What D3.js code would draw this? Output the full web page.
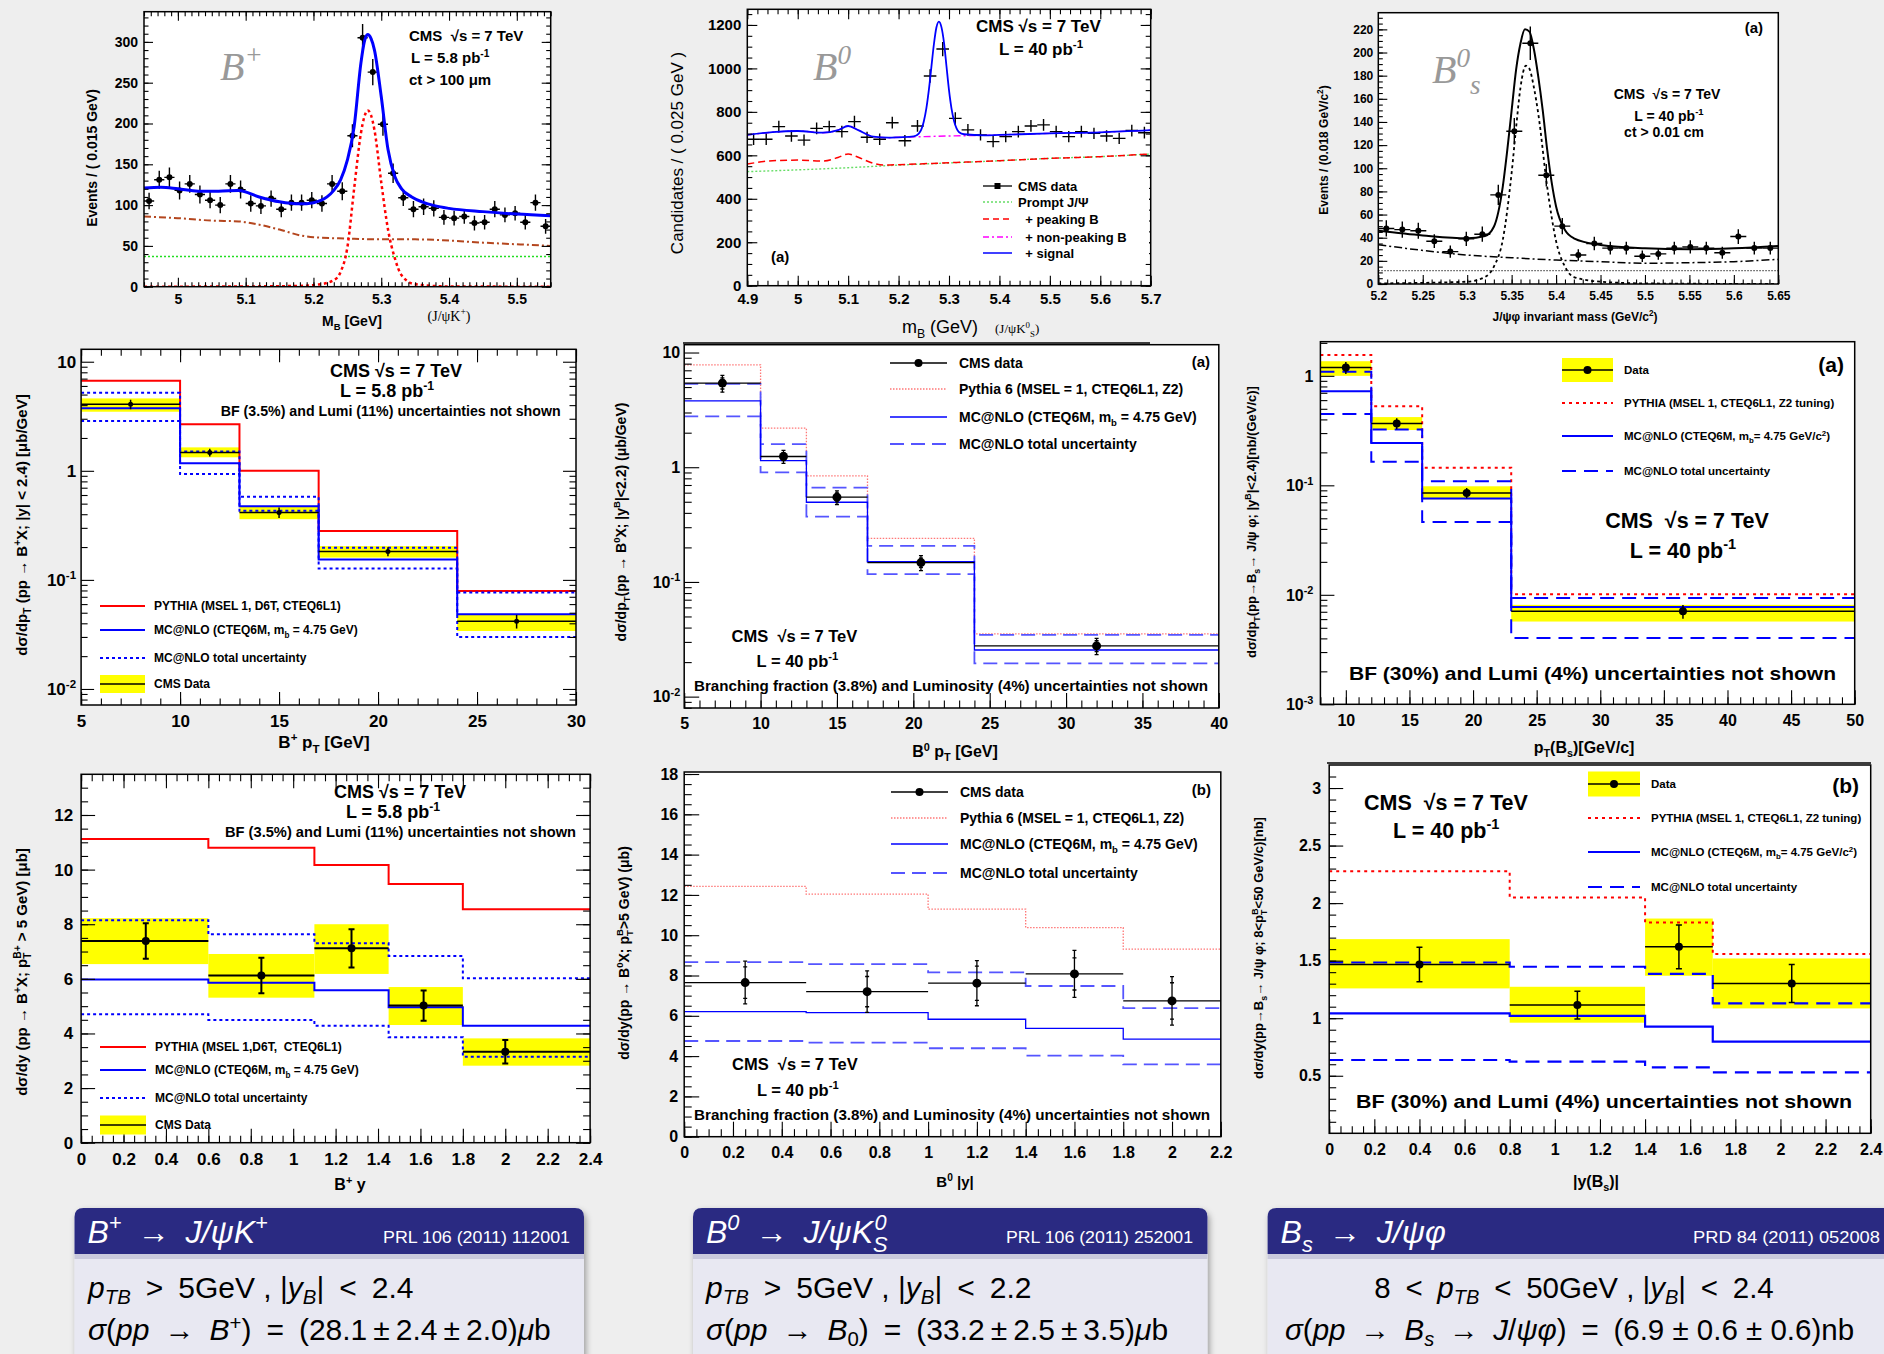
<!DOCTYPE html>
<html>
<head>
<meta charset="UTF-8">
<title>CMS B meson production</title>
<script src="https://cdn.jsdelivr.net/npm/d3@7/dist/d3.min.js"></script>
<style>
  body { margin: 0; background: #eeeeee; }
  svg { display: block; }
  text { white-space: pre; }
</style>
</head>
<body>
<svg id="fig" width="1884" height="1354"></svg>
<script>
// ---------- B+ mass (top left) ----------
var bpMassX = [4.9575, 4.9725, 4.9875, 5.0025, 5.0175, 5.0325, 5.0475, 5.0625, 5.0775, 5.0925,
  5.1075, 5.1225, 5.1375, 5.1525, 5.1675, 5.1825, 5.1975, 5.2125, 5.2275, 5.2425,
  5.2575, 5.2725, 5.2875, 5.3025, 5.3175, 5.3325, 5.3475, 5.3625, 5.3775, 5.3925,
  5.4075, 5.4225, 5.4375, 5.4525, 5.4675, 5.4825, 5.4975, 5.5125, 5.5275, 5.5425];
var bpMassN = [105, 131, 134, 118, 126, 113, 106, 100, 126, 119, 102, 99, 108, 95, 103, 103, 106, 102, 126, 117,
  185, 305, 263, 199, 139, 109, 95, 98, 96, 85, 84, 86, 78, 79, 95, 88, 90, 79, 103, 74];
var bpMassErr = [10, 11, 12, 11, 11, 11, 10, 10, 11, 11, 10, 10, 10, 10, 10, 10, 10, 10, 11, 11,
  14, 17, 16, 14, 12, 10, 10, 10, 10, 9, 9, 9, 9, 9, 10, 9, 9, 9, 10, 9];
var bpFitX = [4.95, 4.975, 5.0, 5.03, 5.06, 5.09, 5.12, 5.15, 5.18, 5.2, 5.22, 5.23, 5.24, 5.25, 5.26, 5.27, 5.275,
  5.28, 5.285, 5.29, 5.3, 5.31, 5.32, 5.33, 5.345, 5.36, 5.38, 5.4, 5.45, 5.5, 5.55];
var bpFitY = [121, 122, 120, 117, 117, 118, 110, 104, 101.5, 103, 110, 118, 131, 155, 196, 274, 300,
  309, 304, 290, 233, 168, 135, 120, 110, 104, 99, 96, 92, 89, 87];
var bpSigX = [4.95, 5.1, 5.18, 5.21, 5.23, 5.24, 5.25, 5.26, 5.27, 5.275, 5.28, 5.285, 5.29, 5.3, 5.31, 5.32, 5.33, 5.35, 5.4, 5.55];
var bpSigY = [0, 0.3, 1, 3, 8, 18, 48, 120, 188, 208, 216, 210, 192, 128, 70, 35, 14, 3, 0.3, 0];
var bpBkgX = [4.95, 5.0, 5.05, 5.09, 5.12, 5.15, 5.18, 5.2, 5.25, 5.3, 5.35, 5.4, 5.45, 5.5, 5.55];
var bpBkgY = [86, 84, 81, 80, 76, 70, 63, 60.6, 59, 58, 58, 56.5, 54, 52, 50];
var bpPromptX = [4.95, 5.55];
var bpPromptY = [37, 37];
var bpMassTicksX = [5, 5.1, 5.2, 5.3, 5.4, 5.5];
var bpMassTicksY = [0, 50, 100, 150, 200, 250, 300];

// ---------- B0 mass (top middle) ----------
var b0MassX = [4.9125, 4.9375, 4.9625, 4.9875, 5.0125, 5.0375, 5.0625, 5.0875, 5.1125, 5.1375, 5.1625,
  5.1875, 5.2125, 5.2375, 5.2625, 5.2875, 5.3125, 5.3375, 5.3625, 5.3875, 5.4125, 5.4375, 5.4625,
  5.4875, 5.5125, 5.5375, 5.5625, 5.5875, 5.6125, 5.6375, 5.6625, 5.6875];
var b0MassN = [674, 674, 732, 689, 670, 724, 732, 709, 755, 683, 674, 750, 667, 735, 965, 1089, 770, 717, 694,
  663, 686, 709, 735, 740, 709, 686, 709, 701, 689, 678, 714, 704];
var b0MassErr = [26, 26, 27, 26, 26, 27, 27, 27, 27, 26, 26, 27, 26, 27, 31, 33, 28, 27, 26, 26, 26, 27, 27, 27,
  27, 26, 27, 26, 26, 26, 27, 27];
var b0FitX = [4.9, 4.95, 5.0, 5.05, 5.08, 5.1, 5.12, 5.15, 5.18, 5.2, 5.23, 5.24, 5.245, 5.25, 5.255, 5.26, 5.265,
  5.27, 5.275, 5.28, 5.285, 5.29, 5.295, 5.3, 5.305, 5.31, 5.315, 5.32, 5.33, 5.37, 5.4, 5.5, 5.6, 5.7];
var b0FitY = [694, 707, 712, 704, 716, 735, 716, 686, 681, 683, 687, 700, 718, 756, 815, 900, 1005,
  1110, 1188, 1215, 1190, 1120, 1010, 900, 815, 758, 724, 706, 697, 692, 694, 701, 706, 716];
var b0PeakingX = [4.9, 4.95, 5.0, 5.05, 5.08, 5.1, 5.12, 5.15, 5.17, 5.2, 5.3, 5.4, 5.5, 5.6, 5.7];
var b0PeakingY = [560, 575, 578, 574, 590, 606, 591, 563, 555, 557, 566, 575, 586, 594, 606];
var b0PromptX = [4.9, 5.0, 5.1, 5.2, 5.3, 5.4, 5.5, 5.6, 5.7];
var b0PromptY = [525, 533, 543, 555, 565, 575, 586, 594, 606];
var b0NonPeakX = [4.9, 5.0, 5.05, 5.08, 5.1, 5.12, 5.15, 5.18, 5.2, 5.25, 5.3, 5.35, 5.4, 5.5, 5.6, 5.7];
var b0NonPeakY = [694, 712, 704, 716, 735, 716, 686, 681, 683, 686, 689, 691, 694, 701, 706, 716];
var b0MassTicksX = [4.9, 5, 5.1, 5.2, 5.3, 5.4, 5.5, 5.6, 5.7];
var b0MassTicksY = [0, 200, 400, 600, 800, 1000, 1200];
var b0MassLegend = ["CMS data", "Prompt J/\u03A8", "  + peaking B", "  + non-peaking B", "  + signal"];

// ---------- Bs mass (top right) ----------
var bsMassX = [5.209, 5.227, 5.245, 5.263, 5.281, 5.299, 5.317, 5.335, 5.353, 5.371, 5.389, 5.407, 5.425,
  5.443, 5.461, 5.479, 5.497, 5.515, 5.533, 5.551, 5.569, 5.587, 5.605, 5.623, 5.641];
var bsMassN = [48, 47, 46, 37, 28, 39, 43, 77, 132, 208, 94, 50, 25, 35, 31, 31, 24, 26, 31, 32, 31, 27, 41, 31, 31];
var bsMassErr = [7, 7, 7, 6, 5.3, 6.2, 6.6, 8.8, 11.5, 14.4, 9.7, 7.1, 5, 5.9, 5.6, 5.6, 4.9, 5.1, 5.6, 5.7, 5.6, 5.2, 6.4, 5.6, 5.6];
var bsFitX = [5.2, 5.25, 5.3, 5.32, 5.33, 5.34, 5.345, 5.35, 5.355, 5.36, 5.365, 5.37, 5.375, 5.38, 5.385, 5.39,
  5.395, 5.4, 5.41, 5.42, 5.45, 5.5, 5.55, 5.6, 5.65];
var bsFitY = [46, 42, 39.5, 41.5, 49.5, 84, 115, 150, 185, 208, 220, 218, 203, 179, 150, 116, 88, 67, 46.6, 39.5,
  33.7, 30.8, 30, 30.8, 32.8];
var bsSigX = [5.2, 5.3, 5.32, 5.33, 5.34, 5.35, 5.355, 5.36, 5.366, 5.37, 5.375, 5.38, 5.39, 5.4, 5.41, 5.42, 5.45, 5.5, 5.65];
var bsSigY = [0.5, 2, 6, 15, 38, 96, 135, 170, 188.6, 186, 170, 147, 84, 37, 15, 6, 2, 0.5, 0];
var bsBkgX = [5.2, 5.25, 5.3, 5.35, 5.4, 5.45, 5.5, 5.55, 5.6, 5.65];
var bsBkgY = [34, 29, 25, 22.7, 20.7, 19.3, 17.9, 18.4, 19.3, 21.3];
var bsPromptX = [5.2, 5.65];
var bsPromptY = [11.5, 11.5];
var bsMassTicksX = [5.2, 5.25, 5.3, 5.35, 5.4, 5.45, 5.5, 5.55, 5.6, 5.65];
var bsMassTicksY = [0, 20, 40, 60, 80, 100, 120, 140, 160, 180, 200, 220];

// ---------- B+ dsigma/dpT ----------
var bpPtEdges = [5, 10, 13, 17, 24, 30];
var bpPtX = [7.5, 11.5, 15, 20.5, 27];
var bpPtData = [4.07, 1.47, 0.415, 0.182, 0.0418];
var bpPtErr = [0.4, 0.12, 0.045, 0.017, 0.006];
var bpPtBandLo = [3.48, 1.33, 0.36, 0.160, 0.034];
var bpPtBandHi = [4.61, 1.64, 0.468, 0.204, 0.048];
var bpPtPythia = [6.7, 2.67, 1.0, 0.28, 0.079];
var bpPtMcnlo = [3.74, 1.17, 0.474, 0.154, 0.0484];
var bpPtMcnloUp = [5.2, 1.5, 0.578, 0.197, 0.0766];
var bpPtMcnloDn = [2.86, 0.933, 0.43, 0.127, 0.030];
var bpPtTicksX = [5, 10, 15, 20, 25, 30];
var bpPtTicksY = [0.01, 0.1, 1, 10];
var bpPtLabelsY = ["10^{-2}", "10^{-1}", "1", "10"];
var bpLegend = ["PYTHIA (MSEL 1, D6T, CTEQ6L1)", "MC@NLO (CTEQ6M, m_{b} = 4.75 GeV)", "MC@NLO total uncertainty", "CMS Data"];

// ---------- B0 dsigma/dpT ----------
var b0PtEdges = [5, 10, 13, 17, 24, 40];
var b0PtX = [7.5, 11.5, 15, 20.5, 32];
var b0PtData = [5.41, 1.24, 0.548, 0.1475, 0.0277];
var b0PtErr = [0.9, 0.16, 0.075, 0.022, 0.0045];
var b0PtErrStat = [0.6, 0.1, 0.05, 0.014, 0.003];
var b0PtPythia = [7.81, 2.19, 0.841, 0.240, 0.0352];
var b0PtMcnlo = [3.79, 1.14, 0.495, 0.150, 0.0255];
var b0PtMcnloUp = [5.33, 1.59, 0.665, 0.206, 0.0345];
var b0PtMcnloDn = [2.77, 0.90, 0.371, 0.117, 0.0195];
var b0PtTicksX = [5, 10, 15, 20, 25, 30, 35, 40];
var b0PtTicksY = [0.01, 0.1, 1, 10];
var b0PtLabelsY = ["10^{-2}", "10^{-1}", "1", "10"];
var b0Legend = ["CMS data", "Pythia 6 (MSEL = 1, CTEQ6L1, Z2)", "MC@NLO (CTEQ6M, m_{b} = 4.75 GeV)", "MC@NLO total uncertainty"];

// ---------- Bs dsigma/dpT ----------
var bsPtEdges = [8, 12, 16, 23, 50];
var bsPtX = [10, 14, 19.5, 36.5];
var bsPtData = [1.19, 0.367, 0.0853, 0.00706];
var bsPtErr = [0.15, 0.042, 0.009, 0.001];
var bsPtBandLo = [1.0, 0.32, 0.0745, 0.0057];
var bsPtBandHi = [1.36, 0.42, 0.098, 0.0081];
var bsPtPythia = [1.55, 0.528, 0.145, 0.0101];
var bsPtMcnlo = [0.725, 0.244, 0.0757, 0.00773];
var bsPtMcnloUp = [1.09, 0.324, 0.109, 0.00935];
var bsPtMcnloDn = [0.447, 0.164, 0.0463, 0.00403];
var bsPtTicksX = [10, 15, 20, 25, 30, 35, 40, 45, 50];
var bsPtTicksY = [0.001, 0.01, 0.1, 1];
var bsPtLabelsY = ["10^{-3}", "10^{-2}", "10^{-1}", "1"];
var bsLegend = ["Data", "PYTHIA (MSEL 1, CTEQ6L1, Z2 tuning)", "MC@NLO (CTEQ6M, m_{b}= 4.75 GeV/c^{2})", "MC@NLO total uncertainty"];

// ---------- B+ dsigma/dy ----------
var bpYEdges = [0, 0.6, 1.1, 1.45, 1.8, 2.4];
var bpYX = [0.305, 0.85, 1.275, 1.615, 2.0];
var bpYData = [7.39, 6.12, 7.12, 5.02, 3.33];
var bpYErr = [0.65, 0.65, 0.7, 0.55, 0.43];
var bpYBandLo = [6.54, 5.31, 6.18, 4.31, 2.82];
var bpYBandHi = [8.22, 6.91, 8.0, 5.70, 3.82];
var bpYPythia = [11.12, 10.80, 10.17, 9.47, 8.55];
var bpYMcnlo = [5.98, 5.86, 5.58, 4.96, 4.28];
var bpYMcnloUp = [8.15, 7.63, 7.30, 6.84, 6.02];
var bpYMcnloDn = [4.70, 4.49, 4.28, 3.86, 3.15];
var bpYTicksX = [0, 0.2, 0.4, 0.6, 0.8, 1, 1.2, 1.4, 1.6, 1.8, 2, 2.2, 2.4];
var bpYTicksY = [0, 2, 4, 6, 8, 10, 12];
var bpYLegend = ["PYTHIA (MSEL 1,D6T,  CTEQ6L1)", "MC@NLO (CTEQ6M, m_{b} = 4.75 GeV)", "MC@NLO total uncertainty", "CMS Data"];

// ---------- B0 dsigma/dy ----------
var b0YEdges = [0, 0.5, 1, 1.4, 1.8, 2.2];
var b0YX = [0.25, 0.75, 1.2, 1.6, 2.0];
var b0YData = [7.65, 7.20, 7.62, 8.08, 6.74];
var b0YErr = [1.06, 1.03, 1.12, 1.17, 1.2];
var b0YErrStat = [0.78, 0.75, 0.85, 0.8, 0.9];
var b0YPythia = [12.42, 12.04, 11.29, 10.38, 9.31];
var b0YMcnlo = [6.21, 6.16, 5.83, 5.38, 4.84];
var b0YMcnloUp = [8.66, 8.56, 8.16, 7.48, 6.38];
var b0YMcnloDn = [4.75, 4.67, 4.39, 4.02, 3.59];
var b0YTicksX = [0, 0.2, 0.4, 0.6, 0.8, 1, 1.2, 1.4, 1.6, 1.8, 2, 2.2];
var b0YTicksY = [0, 2, 4, 6, 8, 10, 12, 14, 16, 18];

// ---------- Bs dsigma/dy ----------
var bsYEdges = [0, 0.8, 1.4, 1.7, 2.4];
var bsYX = [0.4, 1.1, 1.55, 2.05];
var bsYData = [1.467, 1.114, 1.62, 1.302];
var bsYErr = [0.15, 0.12, 0.19, 0.165];
var bsYBandLo = [1.259, 0.961, 1.369, 1.085];
var bsYBandHi = [1.687, 1.273, 1.866, 1.519];
var bsYPythia = [2.277, 2.049, 1.832, 1.557];
var bsYMcnlo = [1.042, 1.021, 0.926, 0.796];
var bsYMcnloUp = [1.484, 1.447, 1.386, 1.128];
var bsYMcnloDn = [0.637, 0.622, 0.573, 0.530];
var bsYTicksX = [0, 0.2, 0.4, 0.6, 0.8, 1, 1.2, 1.4, 1.6, 1.8, 2, 2.2, 2.4];
var bsYTicksY = [0.5, 1, 1.5, 2, 2.5, 3];

// ---------- summary boxes ----------
var boxTitles = ["B^{+}\u2002\u2192\u2002J/\u03C8K^{+}", "B^{0}\u2002\u2192\u2002J/\u03C8K_{S}^{0}", "B_{s}\u2002\u2192\u2002J/\u03C8\u03C6"];
var boxRefs = ["PRL 106 (2011) 112001", "PRL 106 (2011) 252001", "PRD 84 (2011) 052008"];
var boxLine1 = ["~p~_{TB}\u2002>\u20025GeV , |~y~_{B}|\u2002<\u20022.4", "~p~_{TB}\u2002>\u20025GeV , |~y~_{B}|\u2002<\u20022.2",
  "8\u2002<\u2002~p~_{TB}\u2002<\u200250GeV , |~y~_{B}|\u2002<\u20022.4"];
var boxLine2 = ["~\u03C3~(~pp~\u2002\u2192\u2002~B~^{+})\u2002=\u2002(28.1\u2009\u00B1\u20092.4\u2009\u00B1\u20092.0)~\u03BC~b",
  "~\u03C3~(~pp~\u2002\u2192\u2002~B~_{0})\u2002=\u2002(33.2\u2009\u00B1\u20092.5\u2009\u00B1\u20093.5)~\u03BC~b",
  "~\u03C3~(~pp~\u2002\u2192\u2002~B~_{s}\u2002\u2192\u2002~J~/~\u03C8\u03C6~)\u2002=\u2002(6.9 \u00B1 0.6 \u00B1 0.6)nb"];

var FONT = "'Liberation Sans', Arial, Helvetica, sans-serif";
var SERIF = "'Liberation Serif', 'Times New Roman', serif";
var svg = d3.select("#fig");
var defs = svg.append("defs");
var clipN = 0;

// text with ^{..} sup, _{..} sub and ~..~ italic pieces
function txt(g, x, y, s, o) {
  o = o || {};
  var fs = o.size || 14;
  var t = g.append("text").attr("x", x).attr("y", y)
    .attr("font-size", fs).attr("font-weight", o.weight || "bold")
    .attr("font-family", o.family || FONT).attr("fill", o.fill || "#000")
    .attr("text-anchor", o.anchor || "start");
  if (o.italic) t.attr("font-style", "italic");
  if (o.len) t.attr("textLength", o.len).attr("lengthAdjust", o.adjust || "spacingAndGlyphs");
  if (o.rotate) t.attr("transform", "rotate(-90," + x + "," + y + ")");
  var up = o.mathScripts ? 0.35 : 0.4, down = o.mathScripts ? 0.2 : 0.28;
  var cur = 0, lastSub = 0;
  s.split(/([\^_]\{[^}]*\}|~[^~]*~)/).forEach(function (p) {
    if (!p) return;
    var m = p.match(/^([\^_])\{(.*)\}$/);
    var ts = t.append("tspan");
    if (m) {
      var target = m[1] === "^" ? -up * fs : down * fs;
      ts.attr("dy", target - cur).attr("font-size", 0.68 * fs).text(m[2]);
      if (o.mathScripts && /[A-Za-z]/.test(m[2])) ts.attr("font-style", "italic");
      if (m[1] === "^" && lastSub) ts.attr("dx", -lastSub * 0.68 * fs * 0.6);
      lastSub = m[1] === "_" ? m[2].length : 0;
      cur = target;
    } else if (p.charAt(0) === "~") {
      ts.attr("dy", -cur).attr("font-style", "italic").text(p.slice(1, -1));
      cur = 0; lastSub = 0;
    } else {
      ts.attr("dy", -cur).text(p);
      cur = 0; lastSub = 0;
    }
  });
  return t;
}

function panel(c) {
  var g = svg.append("g");
  g.append("rect").attr("x", c.x0).attr("y", c.y0).attr("width", c.x1 - c.x0).attr("height", c.y1 - c.y0).attr("fill", "#fff");
  var x = d3.scaleLinear().domain(c.xd).range([c.x0, c.x1]);
  var y = (c.log ? d3.scaleLog() : d3.scaleLinear()).domain(c.yd).range([c.y1, c.y0]);
  var id = "clip" + (clipN++);
  defs.append("clipPath").attr("id", id).append("rect")
    .attr("x", c.x0).attr("y", c.y0).attr("width", c.x1 - c.x0).attr("height", c.y1 - c.y0);
  var plot = g.append("g").attr("clip-path", "url(#" + id + ")");
  return { g: g, x: x, y: y, plot: plot, c: c };
}

function logMinor(lo, hi) {
  var out = [];
  for (var e = Math.floor(Math.log10(lo)); e <= Math.ceil(Math.log10(hi)); e++)
    for (var k = 2; k <= 9; k++) { var v = k * Math.pow(10, e); if (v > lo && v < hi) out.push(v); }
  return out;
}

function axes(p) {
  var c = p.c, g = p.g, M = c.tick || 10, m = M / 2;
  function clean(sel) {
    sel.select(".domain").remove();
    sel.selectAll("line").attr("stroke", "#000").attr("stroke-width", 1.1);
    sel.attr("font-family", FONT).attr("font-size", c.fs).attr("font-weight", "bold");
    sel.selectAll("text").attr("fill", "#000");
  }
  var f = function (d) { return String(d); };
  var bx = "translate(0," + c.y1 + ")", tx = "translate(0," + c.y0 + ")";
  var lx = "translate(" + c.x0 + ",0)", rx = "translate(" + c.x1 + ",0)";
  g.append("g").attr("transform", bx).call(d3.axisBottom(p.x).tickValues(c.xt).tickSizeInner(-M).tickSizeOuter(0).tickPadding(c.xpad || 7).tickFormat(f)).call(clean);
  g.append("g").attr("transform", bx).call(d3.axisBottom(p.x).tickValues(c.xm).tickSizeInner(-m).tickSizeOuter(0).tickFormat("")).call(clean);
  g.append("g").attr("transform", lx).call(d3.axisLeft(p.y).tickValues(c.yt).tickSizeInner(-M).tickSizeOuter(0).tickPadding(c.ypad || 6).tickFormat(c.log ? "" : f)).call(clean);
  g.append("g").attr("transform", lx).call(d3.axisLeft(p.y).tickValues(c.ym).tickSizeInner(-m).tickSizeOuter(0).tickFormat("")).call(clean);
  if (c.mirror) {
    g.append("g").attr("transform", tx).call(d3.axisTop(p.x).tickValues(c.xt).tickSizeInner(-M).tickSizeOuter(0).tickFormat("")).call(clean);
    g.append("g").attr("transform", tx).call(d3.axisTop(p.x).tickValues(c.xm).tickSizeInner(-m).tickSizeOuter(0).tickFormat("")).call(clean);
    g.append("g").attr("transform", rx).call(d3.axisRight(p.y).tickValues(c.yt).tickSizeInner(-M).tickSizeOuter(0).tickFormat("")).call(clean);
    g.append("g").attr("transform", rx).call(d3.axisRight(p.y).tickValues(c.ym).tickSizeInner(-m).tickSizeOuter(0).tickFormat("")).call(clean);
  }
  if (c.log) c.yt.forEach(function (v, i) {
    txt(g, c.x0 - (c.ypad || 6), p.y(v) + c.fs * 0.36, c.ylab[i], { size: c.fs, anchor: "end" });
  });
  g.append("rect").attr("x", c.x0).attr("y", c.y0).attr("width", c.x1 - c.x0).attr("height", c.y1 - c.y0)
    .attr("fill", "none").attr("stroke", "#000").attr("stroke-width", 1.5);
}

function curve(p, xs, ys, st) {
  p.plot.append("path").datum(d3.zip(xs, ys))
    .attr("d", d3.line().x(function (d) { return p.x(d[0]); }).y(function (d) { return p.y(d[1]); }).curve(d3.curveMonotoneX))
    .attr("fill", "none").attr("stroke", st.c).attr("stroke-width", st.w).attr("stroke-dasharray", st.d || null);
}

function massPoints(p, xs, ns, es, hw, r) {
  var g = p.plot.append("g").attr("stroke", "#000").attr("stroke-width", 1.4);
  xs.forEach(function (xv, i) {
    g.append("line").attr("x1", p.x(xv - hw)).attr("x2", p.x(xv + hw)).attr("y1", p.y(ns[i])).attr("y2", p.y(ns[i]));
    g.append("line").attr("x1", p.x(xv)).attr("x2", p.x(xv)).attr("y1", p.y(ns[i] - es[i])).attr("y2", p.y(ns[i] + es[i]));
    if (r) g.append("circle").attr("cx", p.x(xv)).attr("cy", p.y(ns[i])).attr("r", r).attr("fill", "#000").attr("stroke", "none");
  });
}

function stepLine(p, edges, vals, st) {
  var pts = vals.map(function (v, i) { return [edges[i], v]; });
  pts.push([edges[edges.length - 1], vals[vals.length - 1]]);
  p.plot.append("path").datum(pts)
    .attr("d", d3.line().x(function (d) { return p.x(d[0]); }).y(function (d) { return p.y(d[1]); }).curve(d3.curveStepAfter))
    .attr("fill", "none").attr("stroke", st.c).attr("stroke-width", st.w).attr("stroke-dasharray", st.d || null);
}

function band(p, edges, lo, hi) {
  lo.forEach(function (l, i) {
    p.plot.append("rect").attr("x", p.x(edges[i])).attr("width", p.x(edges[i + 1]) - p.x(edges[i]))
      .attr("y", p.y(hi[i])).attr("height", p.y(l) - p.y(hi[i])).attr("fill", "#ffff00");
  });
}

function dataBins(p, edges, xs, vals, err, o) {
  var g = p.plot.append("g").attr("stroke", "#000").attr("stroke-width", o.w || 1.5);
  vals.forEach(function (v, i) {
    g.append("line").attr("x1", p.x(edges[i])).attr("x2", p.x(edges[i + 1])).attr("y1", p.y(v)).attr("y2", p.y(v));
    g.append("line").attr("x1", p.x(xs[i])).attr("x2", p.x(xs[i])).attr("y1", p.y(v - err[i])).attr("y2", p.y(v + err[i]));
    var caps = [v - err[i], v + err[i]];
    if (o.stat) caps.push(v - o.stat[i], v + o.stat[i]);
    if (o.cap) caps.forEach(function (c) {
      g.append("line").attr("x1", p.x(xs[i]) - o.cap).attr("x2", p.x(xs[i]) + o.cap).attr("y1", p.y(c)).attr("y2", p.y(c));
    });
    g.append("circle").attr("cx", p.x(xs[i])).attr("cy", p.y(v)).attr("r", o.r).attr("fill", "#000").attr("stroke", "none");
  });
}

function legend(g, x0, x1, tx, rows, fs) {
  rows.forEach(function (r) {
    var mid = (x0 + x1) / 2;
    if (r.kind === "band") {
      g.append("rect").attr("x", x0).attr("y", r.y - r.h / 2).attr("width", x1 - x0).attr("height", r.h).attr("fill", "#ffff00");
    }
    g.append("line").attr("x1", x0).attr("x2", x1).attr("y1", r.y).attr("y2", r.y)
      .attr("stroke", r.c || "#000").attr("stroke-width", r.w || 1.5).attr("stroke-dasharray", r.d || null);
    if (r.dot) g.append("circle").attr("cx", mid).attr("cy", r.y).attr("r", r.dot).attr("fill", "#000");
    if (r.sq) g.append("rect").attr("x", mid - 3).attr("y", r.y - 3).attr("width", 6).attr("height", 6).attr("fill", "#000");
    txt(g, tx, r.y + fs * 0.36, r.label, { size: fs });
  });
}

// ================= top row: invariant masses =================
var p1 = panel({ x0: 144, x1: 550.7, y0: 11.7, y1: 286.7, xd: [4.95, 5.55], yd: [0, 337], fs: 14, tick: 9, mirror: true,
  xt: bpMassTicksX, xm: d3.range(4.95, 5.555, 0.01), yt: bpMassTicksY, ym: d3.range(0, 337, 10) });
curve(p1, bpPromptX, bpPromptY, { c: "#22dd22", w: 1.6, d: "2,2" });
curve(p1, bpBkgX, bpBkgY, { c: "#b4461e", w: 2, d: "7,3,2,3" });
curve(p1, bpSigX, bpSigY, { c: "#ff0000", w: 2.5, d: "3,3" });
massPoints(p1, bpMassX, bpMassN, bpMassErr, 0.0075, 3);
curve(p1, bpFitX, bpFitY, { c: "#0000ff", w: 3 });
axes(p1);
txt(p1.g, 220, 80, "B^{+}", { size: 40, family: SERIF, weight: "normal", italic: true, fill: "#999" });
txt(p1.g, 409, 41, "CMS  \u221As = 7 TeV", { size: 15 });
txt(p1.g, 411, 63, "L = 5.8 pb^{-1}", { size: 15 });
txt(p1.g, 409, 85, "ct > 100 \u03BCm", { size: 15 });
txt(p1.g, 96.7, 158, "Events / ( 0.015 GeV)", { size: 14, rotate: true, anchor: "middle" });
txt(p1.g, 352, 326, "M_{B} [GeV]", { size: 14, anchor: "middle" });
txt(p1.g, 449, 321, "(J/\u03C8K^{+})", { size: 14, anchor: "middle", family: SERIF, weight: "normal" });

var p2 = panel({ x0: 747.3, x1: 1150.7, y0: 9.3, y1: 285.7, xd: [4.9, 5.7], yd: [0, 1272], fs: 15, tick: 10, mirror: true,
  xt: b0MassTicksX, xm: d3.range(4.9, 5.705, 0.02), yt: b0MassTicksY, ym: d3.range(0, 1272, 50), xpad: 8 });
curve(p2, b0PromptX, b0PromptY, { c: "#66dd66", w: 1.4, d: "2,2" });
curve(p2, b0PeakingX, b0PeakingY, { c: "#ff0000", w: 1.5, d: "7,4" });
curve(p2, b0NonPeakX, b0NonPeakY, { c: "#ff00ff", w: 1.4, d: "7,3,2,3" });
massPoints(p2, b0MassX, b0MassN, b0MassErr, 0.0125, 0);
curve(p2, b0FitX, b0FitY, { c: "#0000ff", w: 1.8 });
axes(p2);
p2.g.append("rect").attr("x", 976).attr("y", 177).attr("width", 173).attr("height", 85).attr("fill", "#fff");
legend(p2.g, 983, 1012, 1018, [
  { y: 186, label: b0MassLegend[0], sq: true, w: 1.3 },
  { y: 202, label: b0MassLegend[1], c: "#66dd66", d: "2,2" },
  { y: 219, label: b0MassLegend[2], c: "#ff0000", d: "6,4" },
  { y: 237, label: b0MassLegend[3], c: "#ff00ff", d: "6,3,2,3" },
  { y: 253, label: b0MassLegend[4], c: "#0000ff" }
], 13);
txt(p2.g, 813, 80, "B^{0}", { size: 40, family: SERIF, weight: "normal", italic: true, fill: "#999" });
txt(p2.g, 976, 32, "CMS \u221As = 7 TeV", { size: 17 });
txt(p2.g, 999, 55, "L = 40 pb^{-1}", { size: 17 });
txt(p2.g, 771, 262, "(a)", { size: 15 });
txt(p2.g, 683, 153, "Candidates / ( 0.025 GeV )", { size: 17, rotate: true, anchor: "middle", weight: "normal" });
txt(p2.g, 940, 333, "m_{B} (GeV)", { size: 18, anchor: "middle", weight: "normal" });
txt(p2.g, 995, 333, "(J/\u03C8K^{0}_{S})", { size: 13, family: SERIF, weight: "normal" });
svg.append("line").attr("x1", 683).attr("x2", 1150).attr("y1", 343).attr("y2", 343).attr("stroke", "#000").attr("stroke-width", 1.5);

var p3 = panel({ x0: 1378.3, x1: 1778.3, y0: 12.7, y1: 284, xd: [5.2, 5.65], yd: [0, 234.4], fs: 12, tick: 9,
  xt: bsMassTicksX, xm: d3.range(5.2, 5.655, 0.01), yt: bsMassTicksY, ym: d3.range(0, 234, 5), xpad: 7, ypad: 5 });
curve(p3, bsPromptX, bsPromptY, { c: "#555", w: 1.3, d: "1.5,1.5" });
curve(p3, bsBkgX, bsBkgY, { c: "#000", w: 1.5, d: "8,3,2,3" });
curve(p3, bsSigX, bsSigY, { c: "#000", w: 1.8, d: "3,3" });
massPoints(p3, bsMassX, bsMassN, bsMassErr, 0.009, 3);
curve(p3, bsFitX, bsFitY, { c: "#000", w: 2 });
axes(p3);
txt(p3.g, 1432, 83, "B^{0}_{s}", { size: 40, family: SERIF, weight: "normal", italic: true, fill: "#999" });
txt(p3.g, 1763, 33, "(a)", { size: 15, anchor: "end" });
txt(p3.g, 1667, 99, "CMS  \u221As = 7 TeV", { size: 14, anchor: "middle" });
txt(p3.g, 1669, 121, "L = 40 pb^{-1}", { size: 14, anchor: "middle" });
txt(p3.g, 1664, 137, "ct > 0.01 cm", { size: 14, anchor: "middle" });
txt(p3.g, 1328, 150, "Events / (0.018 GeV/c^{2})", { size: 12, rotate: true, anchor: "middle" });
txt(p3.g, 1575, 321, "J/\u03C8\u03C6 invariant mass (GeV/c^{2})", { size: 12, anchor: "middle" });

// ================= middle row: dsigma/dpT =================
var p4 = panel({ x0: 81.1, x1: 576, y0: 349.3, y1: 705, xd: [5, 30], yd: [0.00713, 13], log: true, fs: 17, tick: 13,
  xt: bpPtTicksX, xm: d3.range(5, 30.01, 1), yt: bpPtTicksY, ym: logMinor(0.00713, 13), ylab: bpPtLabelsY, mirror: true, xpad: 10, ypad: 5 });
band(p4, bpPtEdges, bpPtBandLo, bpPtBandHi);
stepLine(p4, bpPtEdges, bpPtPythia, { c: "#ff0000", w: 2 });
stepLine(p4, bpPtEdges, bpPtMcnloUp, { c: "#0000ff", w: 2, d: "3,3" });
stepLine(p4, bpPtEdges, bpPtMcnloDn, { c: "#0000ff", w: 2, d: "3,3" });
stepLine(p4, bpPtEdges, bpPtMcnlo, { c: "#0000ff", w: 2 });
dataBins(p4, bpPtEdges, bpPtX, bpPtData, bpPtErr, { r: 2.5, w: 1.5 });
axes(p4);
legend(p4.g, 100, 145, 154, [
  { y: 606, label: bpLegend[0], c: "#ff0000", w: 2 },
  { y: 630, label: bpLegend[1], c: "#0000ff", w: 2 },
  { y: 658, label: bpLegend[2], c: "#0000ff", w: 2, d: "3,3" },
  { y: 684, label: bpLegend[3], kind: "band", h: 18 }
], 12);
txt(p4.g, 396, 377, "CMS \u221As = 7 TeV", { size: 18, anchor: "middle" });
txt(p4.g, 387, 397, "L = 5.8 pb^{-1}", { size: 18, anchor: "middle" });
txt(p4.g, 560.7, 416, "BF (3.5%) and Lumi (11%) uncertainties not shown", { size: 14, anchor: "end", len: 340 });
txt(p4.g, 27, 525, "d\u03C3/dp_{T} (pp \u2192 B^{+}X; |y| < 2.4) [\u03BCb/GeV]", { size: 15, rotate: true, anchor: "middle" });
txt(p4.g, 324, 748, "B^{+} p_{T} [GeV]", { size: 17, anchor: "middle" });

var p5 = panel({ x0: 684.2, x1: 1218.8, y0: 344.7, y1: 708, xd: [5, 40], yd: [0.00796, 11.7], log: true, fs: 16, tick: 15,
  xt: b0PtTicksX, xm: d3.range(5, 40.01, 1), yt: b0PtTicksY, ym: logMinor(0.00796, 11.7), ylab: b0PtLabelsY, xpad: 10, ypad: 4 });
stepLine(p5, b0PtEdges, b0PtPythia, { c: "#ff7777", w: 1.3, d: "1.5,1.5" });
stepLine(p5, b0PtEdges, b0PtMcnloUp, { c: "#5555ff", w: 1.8, d: "14,7" });
stepLine(p5, b0PtEdges, b0PtMcnloDn, { c: "#5555ff", w: 1.8, d: "14,7" });
stepLine(p5, b0PtEdges, b0PtMcnlo, { c: "#0000ff", w: 1.3 });
dataBins(p5, b0PtEdges, b0PtX, b0PtData, b0PtErr, { r: 4.5, w: 1.3, cap: 2, stat: b0PtErrStat });
axes(p5);
legend(p5.g, 890, 947, 959, [
  { y: 363, label: b0Legend[0], dot: 4, w: 1.3 },
  { y: 389, label: b0Legend[1], c: "#ff7777", w: 1.3, d: "1.5,1.5" },
  { y: 417, label: b0Legend[2], c: "#0000ff", w: 1.3 },
  { y: 444, label: b0Legend[3], c: "#5555ff", w: 1.8, d: "14,7" }
], 14);
txt(p5.g, 1210, 367, "(a)", { size: 15, anchor: "end" });
txt(p5.g, 731.6, 642, "CMS  \u221As = 7 TeV", { size: 16.5 });
txt(p5.g, 756.6, 667, "L = 40 pb^{-1}", { size: 16.5 });
txt(p5.g, 694, 691, "Branching fraction (3.8%) and Luminosity (4%) uncertainties not shown", { size: 14, len: 514 });
txt(p5.g, 626, 522, "d\u03C3/dp_{T}(pp \u2192 B^{0}X; |y^{B}|<2.2) (\u03BCb/GeV)", { size: 14, rotate: true, anchor: "middle" });
txt(p5.g, 955, 757, "B^{0} p_{T} [GeV]", { size: 16, anchor: "middle" });

var p6 = panel({ x0: 1320.4, x1: 1854.7, y0: 341.7, y1: 704.3, xd: [8, 50], yd: [0.001, 2.05], log: true, fs: 16, tick: 14,
  xt: bsPtTicksX, xm: d3.range(8, 50.01, 1), yt: bsPtTicksY, ym: logMinor(0.001, 2.05), ylab: bsPtLabelsY, xpad: 10, ypad: 7 });
band(p6, bsPtEdges, bsPtBandLo, bsPtBandHi);
stepLine(p6, bsPtEdges, bsPtPythia, { c: "#ff0000", w: 2, d: "3,4" });
stepLine(p6, bsPtEdges, bsPtMcnloUp, { c: "#0000ff", w: 2, d: "14,8" });
stepLine(p6, bsPtEdges, bsPtMcnloDn, { c: "#0000ff", w: 2, d: "14,8" });
stepLine(p6, bsPtEdges, bsPtMcnlo, { c: "#0000ff", w: 2 });
dataBins(p6, bsPtEdges, bsPtX, bsPtData, bsPtErr, { r: 4, w: 1.5 });
axes(p6);
legend(p6.g, 1562, 1613, 1624, [
  { y: 370, label: bsLegend[0], kind: "band", h: 24, dot: 4 },
  { y: 403, label: bsLegend[1], c: "#ff0000", w: 2, d: "3,4" },
  { y: 436, label: bsLegend[2], c: "#0000ff", w: 2 },
  { y: 471, label: bsLegend[3], c: "#0000ff", w: 2, d: "14,8" }
], 11.5);
txt(p6.g, 1844, 372, "(a)", { size: 21, anchor: "end" });
txt(p6.g, 1687, 528, "CMS  \u221As = 7 TeV", { size: 21.5, anchor: "middle" });
txt(p6.g, 1683, 558, "L = 40 pb^{-1}", { size: 21.5, anchor: "middle" });
txt(p6.g, 1349, 680, "BF (30%) and Lumi (4%) uncertainties not shown", { size: 19, len: 487 });
txt(p6.g, 1256, 522, "d\u03C3/dp_{T}(pp\u2192B_{s}\u2192 J/\u03C8 \u03C6; |y^{B}|<2.4)[nb/(GeV/c)]", { size: 13, rotate: true, anchor: "middle" });
txt(p6.g, 1584, 753, "p_{T}(B_{s})[GeV/c]", { size: 16, anchor: "middle" });
svg.append("line").attr("x1", 1327).attr("x2", 1871).attr("y1", 763).attr("y2", 763).attr("stroke", "#000").attr("stroke-width", 1.5);

// ================= bottom row: dsigma/dy =================
var p7 = panel({ x0: 81.1, x1: 590.1, y0: 774.3, y1: 1142.7, xd: [0, 2.4], yd: [0, 13.49], fs: 17, tick: 14, mirror: true,
  xt: bpYTicksX, xm: d3.range(0, 2.401, 0.05), yt: bpYTicksY, ym: d3.range(0, 13.5, 0.5), xpad: 10, ypad: 8 });
band(p7, bpYEdges, bpYBandLo, bpYBandHi);
stepLine(p7, bpYEdges, bpYPythia, { c: "#ff0000", w: 2 });
stepLine(p7, bpYEdges, bpYMcnloUp, { c: "#0000ff", w: 2, d: "3,3" });
stepLine(p7, bpYEdges, bpYMcnloDn, { c: "#0000ff", w: 2, d: "3,3" });
stepLine(p7, bpYEdges, bpYMcnlo, { c: "#0000ff", w: 2 });
dataBins(p7, bpYEdges, bpYX, bpYData, bpYErr, { r: 4, w: 2, cap: 3 });
axes(p7);
legend(p7.g, 100, 146, 155, [
  { y: 1047, label: bpYLegend[0], c: "#ff0000", w: 2 },
  { y: 1070, label: bpYLegend[1], c: "#0000ff", w: 2 },
  { y: 1098, label: bpYLegend[2], c: "#0000ff", w: 2, d: "3,3" },
  { y: 1125, label: bpYLegend[3], kind: "band", h: 19 }
], 12);
txt(p7.g, 400, 798, "CMS \u221As = 7 TeV", { size: 18, anchor: "middle" });
txt(p7.g, 393, 818, "L = 5.8 pb^{-1}", { size: 18, anchor: "middle" });
txt(p7.g, 576, 837, "BF (3.5%) and Lumi (11%) uncertainties not shown", { size: 14, anchor: "end", len: 351 });
txt(p7.g, 27, 972, "d\u03C3/dy (pp \u2192 B^{+}X; p_{T}^{B+} > 5 GeV) [\u03BCb]", { size: 15, rotate: true, anchor: "middle" });
txt(p7.g, 350, 1190, "B^{+} y", { size: 16, anchor: "middle" });

var p8 = panel({ x0: 684.2, x1: 1220.8, y0: 772, y1: 1136.7, xd: [0, 2.2], yd: [0, 18.1], fs: 16, tick: 15,
  xt: b0YTicksX, xm: d3.range(0, 2.201, 0.05), yt: b0YTicksY, ym: d3.range(0, 18.1, 0.5), xpad: 10, ypad: 6 });
stepLine(p8, b0YEdges, b0YPythia, { c: "#ff7777", w: 1.3, d: "1.5,1.5" });
stepLine(p8, b0YEdges, b0YMcnloUp, { c: "#5555ff", w: 1.8, d: "14,7" });
stepLine(p8, b0YEdges, b0YMcnloDn, { c: "#5555ff", w: 1.8, d: "14,7" });
stepLine(p8, b0YEdges, b0YMcnlo, { c: "#0000ff", w: 1.3 });
dataBins(p8, b0YEdges, b0YX, b0YData, b0YErr, { r: 4.5, w: 1.3, cap: 2, stat: b0YErrStat });
axes(p8);
legend(p8.g, 891, 948, 960, [
  { y: 792, label: b0Legend[0], dot: 4, w: 1.3 },
  { y: 818, label: b0Legend[1], c: "#ff7777", w: 1.3, d: "1.5,1.5" },
  { y: 844, label: b0Legend[2], c: "#0000ff", w: 1.3 },
  { y: 873, label: b0Legend[3], c: "#5555ff", w: 1.8, d: "14,7" }
], 14);
txt(p8.g, 1211, 795, "(b)", { size: 15, anchor: "end" });
txt(p8.g, 732, 1070, "CMS  \u221As = 7 TeV", { size: 16.5 });
txt(p8.g, 757, 1096, "L = 40 pb^{-1}", { size: 16.5 });
txt(p8.g, 694, 1120, "Branching fraction (3.8%) and Luminosity (4%) uncertainties not shown", { size: 14, len: 516 });
txt(p8.g, 629, 953, "d\u03C3/dy(pp \u2192 B^{0}X; p_{T}^{B}>5 GeV) (\u03BCb)", { size: 14, rotate: true, anchor: "middle" });
txt(p8.g, 955, 1187, "B^{0} |y|", { size: 15, anchor: "middle" });

var p9 = panel({ x0: 1329.2, x1: 1870.7, y0: 765, y1: 1133.3, xd: [0, 2.4], yd: [0, 3.2], fs: 16, tick: 14,
  xt: bsYTicksX, xm: d3.range(0, 2.401, 0.05), yt: bsYTicksY, ym: d3.range(0.1, 3.2, 0.1), xpad: 10, ypad: 8 });
band(p9, bsYEdges, bsYBandLo, bsYBandHi);
stepLine(p9, bsYEdges, bsYPythia, { c: "#ff0000", w: 2, d: "3,4" });
stepLine(p9, bsYEdges, bsYMcnloUp, { c: "#0000ff", w: 2.2, d: "14,8" });
stepLine(p9, bsYEdges, bsYMcnloDn, { c: "#0000ff", w: 2.2, d: "14,8" });
stepLine(p9, bsYEdges, bsYMcnlo, { c: "#0000ff", w: 2.2 });
dataBins(p9, bsYEdges, bsYX, bsYData, bsYErr, { r: 4, w: 1.5, cap: 3 });
axes(p9);
legend(p9.g, 1588, 1640, 1651, [
  { y: 784, label: bsLegend[0], kind: "band", h: 25, dot: 4 },
  { y: 818, label: bsLegend[1], c: "#ff0000", w: 2, d: "3,4" },
  { y: 852, label: bsLegend[2], c: "#0000ff", w: 2 },
  { y: 887, label: bsLegend[3], c: "#0000ff", w: 2, d: "14,8" }
], 11.5);
txt(p9.g, 1859, 793, "(b)", { size: 21, anchor: "end" });
txt(p9.g, 1364, 810, "CMS  \u221As = 7 TeV", { size: 21.5 });
txt(p9.g, 1393, 838, "L = 40 pb^{-1}", { size: 21.5 });
txt(p9.g, 1356, 1108, "BF (30%) and Lumi (4%) uncertainties not shown", { size: 19, len: 496 });
txt(p9.g, 1263, 948, "d\u03C3/dy(pp\u2192B_{s}\u2192 J/\u03C8 \u03C6; 8<p_{T}^{B}<50 GeV/c)[nb]", { size: 13, rotate: true, anchor: "middle" });
txt(p9.g, 1596, 1187, "|y(B_{s})|", { size: 16, anchor: "middle" });

// ================= summary boxes =================
defs.append("filter").attr("id", "shadow").attr("x", "-5%").attr("y", "-20%").attr("width", "115%").attr("height", "150%")
  .append("feDropShadow").attr("dx", 2).attr("dy", 3).attr("stdDeviation", 3).attr("flood-opacity", 0.35);

function infoBox(i, x0, x1, o) {
  var g = svg.append("g");
  var top = 1208, hb = 1254, bot = 1372, r = 9;
  g.append("rect").attr("x", x0).attr("y", top).attr("width", x1 - x0).attr("height", bot - top).attr("rx", r)
    .attr("fill", "#e8e8f2").attr("filter", "url(#shadow)");
  g.append("path").attr("fill", "#2a2a82")
    .attr("d", "M" + x0 + "," + hb + "V" + (top + r) + "Q" + x0 + "," + top + " " + (x0 + r) + "," + top +
      "H" + (x1 - r) + "Q" + x1 + "," + top + " " + x1 + "," + (top + r) + "V" + hb + "Z");
  g.append("rect").attr("x", x0).attr("y", hb).attr("width", x1 - x0).attr("height", 5).attr("fill", "#c9c9dc");
  txt(g, x0 + 13, 1243, boxTitles[i], { size: 32, weight: "normal", italic: true, fill: "#fff" });
  txt(g, o.refX, 1243, boxRefs[i], { size: 16, weight: "normal", fill: "#fff", anchor: "end", len: 187 });
  txt(g, o.l1x, 1298, boxLine1[i], { size: o.fs, weight: "normal", anchor: o.l1a, mathScripts: true });
  txt(g, o.l2x, 1340, boxLine2[i], { size: o.fs, weight: "normal", anchor: "start", mathScripts: true });
}
infoBox(0, 74.5, 584, { fs: 30, refX: 570, l1x: 88, l1a: "start", l2x: 88 });
infoBox(1, 693, 1207.5, { fs: 30, refX: 1193, l1x: 706, l1a: "start", l2x: 706 });
infoBox(2, 1267.6, 1910, { fs: 29.5, refX: 1880, l1x: 1574, l1a: "middle", l2x: 1285 });
</script>
</body>
</html>
